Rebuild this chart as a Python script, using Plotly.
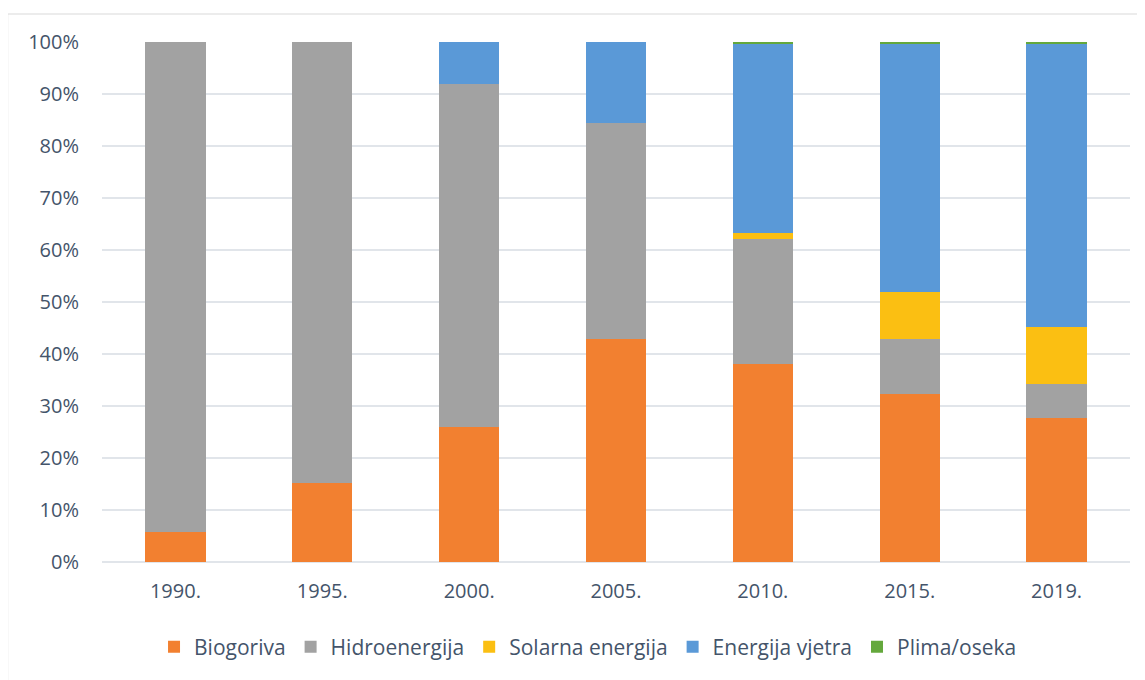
import plotly.graph_objects as go

years = ["1990.", "1995.", "2000.", "2005.", "2010.", "2015.", "2019."]
biogoriva = [5.8, 15.2, 26.0, 42.9, 38.1, 32.4, 27.7]
hidroenergija = [94.2, 84.8, 65.9, 41.6, 24.0, 10.5, 6.6]
solarna = [0, 0, 0, 0, 1.1, 9.1, 10.8]
vjetar = [0, 0, 8.1, 15.5, 36.5, 47.7, 54.6]
plima = [0, 0, 0, 0, 0.3, 0.3, 0.3]
pct_ticks = [0, 10, 20, 30, 40, 50, 60, 70, 80, 90, 100]
pct_labels = [f"{v}%" for v in pct_ticks]

series = [
    ("Biogoriva", biogoriva, "#F28030"),
    ("Hidroenergija", hidroenergija, "#A2A2A2"),
    ("Solarna energija", solarna, "#FBBF12"),
    ("Energija vjetra", vjetar, "#5A99D7"),
    ("Plima/oseka", plima, "#64A83C"),
]

text_color = "#44546A"
font_family = "Open Sans"

fig = go.Figure()
for name, vals, color in series:
    fig.add_trace(go.Bar(
        x=years, y=vals, name=name,
        marker=dict(color=color, line=dict(width=0)),
    ))

# page body has an 8px margin
W, H = 1137, 672
L, R, T, B = 93.5, 14.5, 34, 118
pw, ph = W - L - R, H - T - B

fig.update_layout(
    width=W, height=H,
    barmode="stack",
    bargap=0.59,
    plot_bgcolor="white",
    paper_bgcolor="white",
    margin=dict(l=L, r=R, t=T, b=B, pad=0),
    font=dict(family=font_family, size=20, color=text_color),
    showlegend=True,
    legend=dict(
        orientation="h",
        x=(580 - L) / pw, xanchor="center",
        y=(T + ph - 639) / ph, yanchor="middle",
        font=dict(family=font_family, size=21, color=text_color),
        traceorder="normal",
        itemclick=False,
    ),
    xaxis=dict(
        showgrid=False, showline=False, zeroline=False,
        ticks="", ticklabelstandoff=15,
        tickfont=dict(family=font_family, size=20, color=text_color),
    ),
    yaxis=dict(
        range=[0, 100],
        tickmode="array",
        tickvals=pct_ticks,
        ticktext=pct_labels,
        showgrid=True, gridcolor="#E1E5EA", gridwidth=1.6,
        zeroline=True, zerolinecolor="#E1E5EA", zerolinewidth=1.6,
        showline=False, ticks="", ticklabelstandoff=22,
        tickfont=dict(family=font_family, size=20, color=text_color),
    ),
    shapes=[
        dict(type="line", xref="paper", yref="paper",
             x0=(-1 - L) / pw, x1=(W + 5 - L) / pw,
             y0=(T + ph - 6) / ph, y1=(T + ph - 6) / ph,
             line=dict(color="#D9D9D9", width=1.2), layer="below"),
        dict(type="line", xref="paper", yref="paper",
             x0=(-1 - L) / pw, x1=(-1 - L) / pw,
             y0=(T + ph - 6) / ph, y1=(T + ph - H - 5) / ph,
             line=dict(color="#D9D9D9", width=1.2), layer="below"),
    ],
)

fig.write_html("out.html")
